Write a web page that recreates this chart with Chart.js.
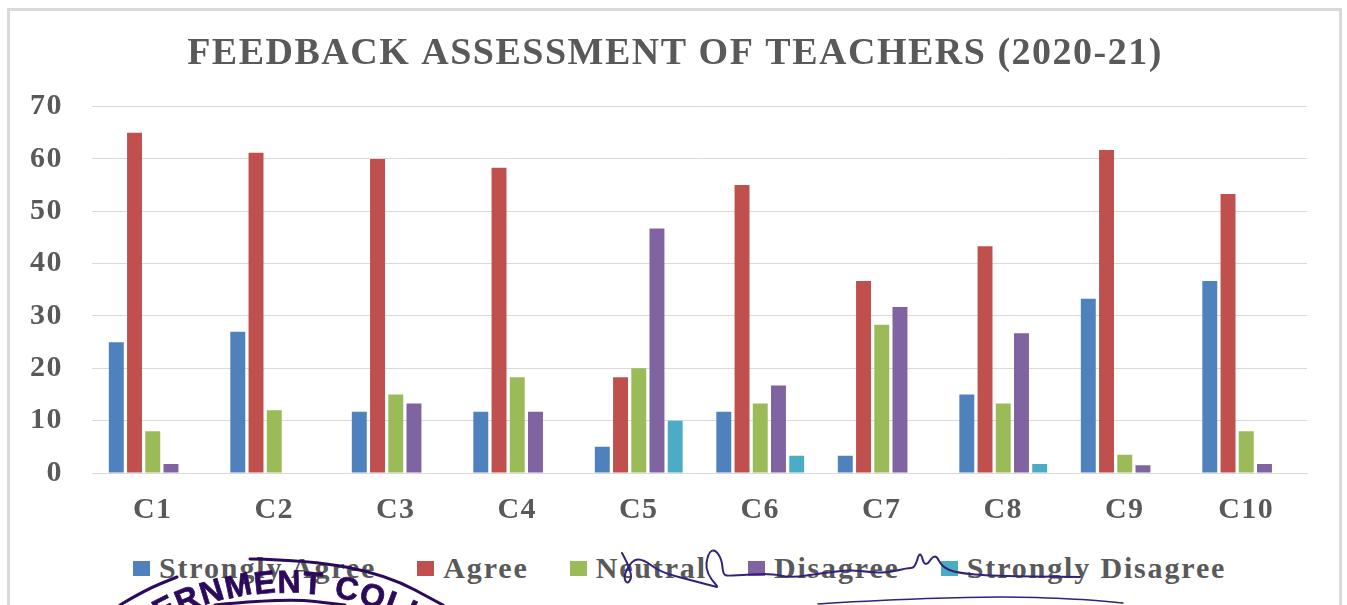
<!DOCTYPE html>
<html>
<head>
<meta charset="utf-8">
<title>Feedback assessment of teachers</title>
<script src="https://cdn.jsdelivr.net/npm/chart.js@4/dist/chart.umd.min.js"></script>
<style>
  html, body { margin: 0; padding: 0; background: #fff; overflow: hidden; }
  #box { position: absolute; left: 7px; top: 8px; width: 1329px; height: 620px; border: 3px solid #d9d9d9; }
  canvas { position: absolute; left: 0; top: 0; }
  #legend { position: absolute; left: 133px; top: 550px; display: flex; gap: 41px; white-space: nowrap;
            font: bold 30px 'Liberation Serif', serif; letter-spacing: 1.85px; color: #595959; line-height: 36px; }
  #legend span { display: flex; align-items: center; gap: 9px; }
  #legend i { display: block; width: 17px; height: 15px; }
</style>
</head>
<body>
<div id="box"></div>
<div id="legend"></div>
<canvas id="chart" width="1347" height="605"></canvas>
<script>
const categories = ["C1", "C2", "C3", "C4", "C5", "C6", "C7", "C8", "C9", "C10"];
const stronglyAgree = [25, 27, 11.7, 11.7, 5, 11.7, 3.3, 15, 33.3, 36.7];
const agree = [65, 61.2, 60, 58.3, 18.3, 55, 36.7, 43.3, 61.7, 53.3];
const neutral = [8, 12, 15, 18.3, 20, 13.3, 28.3, 13.3, 3.5, 8];
const disagree = [1.7, 0, 13.3, 11.7, 46.7, 16.7, 31.7, 26.7, 1.5, 1.7];
const stronglyDisagree = [0, 0, 0, 0, 10, 3.3, 0, 1.7, 0, 0];

const grey = "#595959";
const serif = "'Liberation Serif', serif";

// pen strokes of the signature, as they lie on the scan
const signature = [
  [[622,553],[633,573],[628,585],[623,577],[632,560],[643,559],[660,572],[690,580],[717,587]],
  [[717,586],[705,573],[708,553],[715,549],[722,560],[723,575],[730,576],[770,573],[790,578],[823,573],[850,570],
   [870,572],[887,573],[907,568],[915,568],[920,550],[925,568],[935,553],[942,567],[957,573],[993,576],[1080,577]],
  [[818,604],[860,601],[993,596],[1080,599],[1123,603]]
];
const stampRing = [[[120,605],[145,590],[177,577]], [[250,559],[310,560],[387,575],[443,605]], [[215,605],[285,598],[345,605]]];

function ds(label, data, color) {
  return { label, data, backgroundColor: color, barPercentage: 0.82, categoryPercentage: 0.75 };
}

function pen(c, pts) {
  c.beginPath();
  c.moveTo(pts[0][0], pts[0][1]);
  for (let i = 1; i < pts.length - 1; i++) {
    c.quadraticCurveTo(pts[i][0], pts[i][1], (pts[i][0] + pts[i + 1][0]) / 2, (pts[i][1] + pts[i + 1][1]) / 2);
  }
  const last = pts[pts.length - 1];
  c.lineTo(last[0], last[1]);
  c.stroke();
}

// title sits in the middle of the page, not of the padded chart box
// canvas text gets the wider tracking of the scan
const textPlugin = {
  id: "textTweaks",
  afterLayout(chart) {
    chart.titleBlock.left = 3;
    chart.titleBlock.right = 1347;
  },
  beforeDraw(chart) {
    chart.ctx.letterSpacing = "1.5px";
  }
};

// stamp and signature sit on top of the chart in the scan
const inkPlugin = {
  id: "ink",
  afterDraw(chart) {
    const c = chart.ctx;
    c.save();
    c.lineCap = "round";
    c.lineJoin = "round";
    c.strokeStyle = "#2b0a5c";
    c.fillStyle = "#2b0a5c";
    c.lineWidth = 3;
    stampRing.forEach(p => pen(c, p));

    // curved stamp lettering
    const word = "ERNMENT COLL";
    const cx = 285, cy = 870, r = 277;
    c.font = "bold 32px 'Liberation Sans', sans-serif";
    c.letterSpacing = "0px";
    c.textAlign = "left";
    c.textBaseline = "alphabetic";
    c.lineWidth = 0.7;
    let a = -0.47;
    for (const ch of word) {
      c.save();
      c.translate(cx + r * Math.sin(a), cy - r * Math.cos(a));
      c.rotate(a);
      c.fillText(ch, 0, 0);
      c.strokeText(ch, 0, 0);
      c.restore();
      a += (c.measureText(ch).width + 1.5) / r;
    }

    c.strokeStyle = "#35207a";
    c.lineWidth = 2;
    signature.slice(0, 2).forEach(p => pen(c, p));
    c.lineWidth = 1.5;
    pen(c, signature[2]);
    c.restore();
  }
};

const chart = new Chart(document.getElementById("chart"), {
  type: "bar",
  data: {
    labels: categories,
    datasets: [
      ds("Strongly Agree", stronglyAgree, "#4f81bd"),
      ds("Agree", agree, "#c0504d"),
      ds("Neutral", neutral, "#9bbb59"),
      ds("Disagree", disagree, "#8064a2"),
      ds("Strongly Disagree", stronglyDisagree, "#4bacc6")
    ]
  },
  options: {
    responsive: false,
    animation: false,
    layout: { padding: { left: 4, right: 40, top: 31, bottom: 66 } },
    plugins: {
      title: {
        display: true,
        text: "FEEDBACK ASSESSMENT OF TEACHERS (2020-21)",
        color: grey,
        font: { family: serif, size: 38, weight: "bold" },
        padding: { top: 0, bottom: 30 }
      },
      legend: { display: false },
      tooltip: { enabled: false }
    },
    scales: {
      x: {
        grid: { display: false },
        border: { color: "#d9d9d9" },
        ticks: { color: grey, font: { family: serif, size: 30, weight: "bold" }, padding: 11 }
      },
      y: {
        min: 0,
        max: 70,
        grid: { color: "#d9d9d9", drawTicks: false },
        border: { display: false },
        ticks: { stepSize: 10, color: grey, font: { family: serif, size: 30, weight: "bold" }, padding: 29 }
      }
    }
  },
  plugins: [textPlugin, inkPlugin]
});

// legend is laid out as html so the swatch/text gaps can follow the original
const legend = document.getElementById("legend");
chart.data.datasets.forEach(d => {
  const item = document.createElement("span");
  const swatch = document.createElement("i");
  swatch.style.background = d.backgroundColor;
  item.appendChild(swatch);
  item.appendChild(document.createTextNode(d.label));
  legend.appendChild(item);
});
</script>
</body>
</html>
